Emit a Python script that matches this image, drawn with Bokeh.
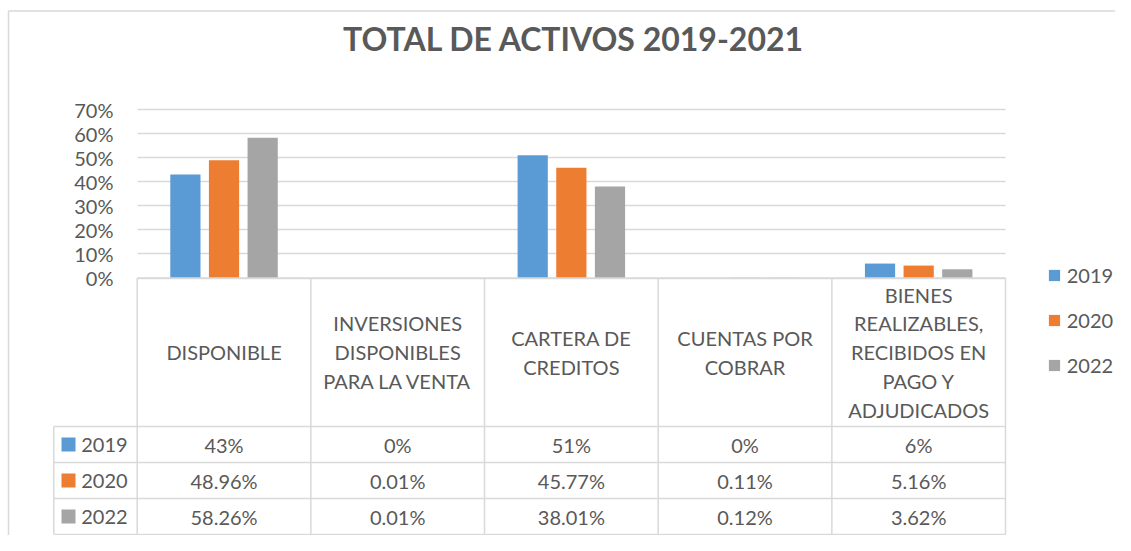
from bokeh.plotting import figure
from bokeh.models import Range1d, Grid, FixedTicker, Legend, LegendItem
from bokeh.core.properties import value
from bokeh.embed import file_html
from bokeh.resources import INLINE

# ---------------- data ----------------
title_text = "TOTAL DE ACTIVOS 2019-2021"
categories = [
    "DISPONIBLE",
    "INVERSIONES\nDISPONIBLES\nPARA LA VENTA",
    "CARTERA DE\nCREDITOS",
    "CUENTAS POR\nCOBRAR",
    "BIENES\nREALIZABLES,\nRECIBIDOS EN\nPAGO Y\nADJUDICADOS",
]
series_names = ["2019", "2020", "2022"]
values_2019 = [0.43, 0.0, 0.51, 0.0, 0.06]
values_2020 = [0.4896, 0.0001, 0.4577, 0.0011, 0.0516]
values_2022 = [0.5826, 0.0001, 0.3801, 0.0012, 0.0362]
series_decimals = [0, 2, 2]
y_ticks = [0.0, 0.1, 0.2, 0.3, 0.4, 0.5, 0.6, 0.7]
y_tick_labels = ["0%", "10%", "20%", "30%", "40%", "50%", "60%", "70%"]

series_values = [values_2019, values_2020, values_2022]
colors = ["#5B9BD5", "#ED7D31", "#A5A5A5"]

# ---------------- layout (pixels) ----------------
W, H = 1115, 535
X0 = 136.7      # left of plot area
CW = 173.66     # width of one category
Y0 = 277.5      # y pixel of 0%
UNIT = 240.7    # pixels per 100%
TEXT = "#595959"
LINE = "#d9d9d9"
FONT = value("Lato")
FS = "20px"


def dx(px):
    return (px - X0) / CW


def dy(py):
    return (Y0 - py) / UNIT


p = figure(width=W, height=H, output_backend="svg", toolbar_location=None,
           x_range=Range1d(dx(0), dx(W)), y_range=Range1d(dy(H), dy(0)),
           x_axis_location=None, y_axis_location=None,
           min_border=0, min_border_left=0, min_border_right=0,
           min_border_top=0, min_border_bottom=0)
p.outline_line_color = None
p.background_fill_color = "white"
p.border_fill_color = "white"
for g in list(p.center):
    g.visible = False

# chart border (top + left)
p.segment(x0=[dx(8), dx(8)], y0=[dy(10.5), dy(10.5)], x1=[dx(W), dx(8)],
          y1=[dy(10.5), dy(H)], line_color=LINE, line_width=1.5)

# gridlines
ncat = len(categories)
grid = Grid(dimension=1, ticker=FixedTicker(ticks=y_ticks), cross_bounds=(0, ncat),
            grid_line_color=LINE, grid_line_width=1.5)
p.center.append(grid)

# y tick labels
p.text(x=[dx(113)] * len(y_ticks), y=y_ticks, text=y_tick_labels,
       text_font=FONT, text_font_size=FS, text_color=TEXT,
       text_align="right", text_baseline="middle")

# bars
offsets = [-0.2225, 0.0, 0.2225]
bar_w = 0.174
renderers = []
for vals, off, col in zip(series_values, offsets, colors):
    xs = [i + 0.5 + off for i in range(ncat)]
    r = p.vbar(x=xs, top=vals, bottom=0, width=bar_w, fill_color=col, line_color=None)
    renderers.append(r)

# data table
HEAD_BOT = 426.0
ROW_H = 36.0
TABLE_L = 53.3
row_lines = [HEAD_BOT + k * ROW_H for k in range(len(series_names) + 1)]
x_right = float(ncat)
sx0, sy0, sx1, sy1 = [], [], [], []
sx0.append(0); sy0.append(0); sx1.append(x_right); sy1.append(0)
for ry in row_lines:
    sx0.append(dx(TABLE_L)); sy0.append(dy(ry)); sx1.append(x_right); sy1.append(dy(ry))
sx0.append(dx(TABLE_L)); sy0.append(dy(HEAD_BOT)); sx1.append(dx(TABLE_L)); sy1.append(dy(row_lines[-1]))
for k in range(ncat + 1):
    sx0.append(k); sy0.append(0); sx1.append(k); sy1.append(dy(row_lines[-1]))
p.segment(x0=sx0, y0=sy0, x1=sx1, y1=sy1, line_color=LINE, line_width=1.5)

# category labels
p.text(x=[i + 0.5 for i in range(ncat)], y=[dy((Y0 + HEAD_BOT) / 2)] * ncat, text=categories,
       text_font=FONT, text_font_size=FS, text_color=TEXT, text_align="center",
       text_baseline="middle", text_line_height=1.2)

# rows
for j, (name, vals, dec, col) in enumerate(zip(series_names, series_values, series_decimals, colors)):
    cy = dy(HEAD_BOT + (j + 0.5) * ROW_H)
    p.scatter(x=[dx(68)], y=[cy], marker="square", size=14, fill_color=col, line_color=None)
    p.text(x=[dx(80.7)], y=[cy], text=[name], text_font=FONT, text_font_size=FS,
           text_color=TEXT, text_align="left", text_baseline="middle")
    labels = [f"{v * 100:.{dec}f}%" for v in vals]
    p.text(x=[i + 0.5 for i in range(ncat)], y=[cy] * ncat, text=labels, text_font=FONT,
           text_font_size=FS, text_color=TEXT, text_align="center", text_baseline="middle")

# title
p.text(x=[dx(573.6)], y=[dy(37.7)], text=[title_text], text_font=FONT, text_font_style="bold",
       text_font_size="32px", text_color=TEXT, text_align="center", text_baseline="middle")

# legend
legend = Legend(items=[LegendItem(label=n, renderers=[r]) for n, r in zip(series_names, renderers)],
                location=(1046.7, H - 377), orientation="vertical",
                glyph_width=14, glyph_height=14, label_standoff=6, spacing=21,
                label_text_font="Lato", label_text_font_size=FS, label_text_color=TEXT,
                padding=0, margin=0, border_line_color=None, background_fill_alpha=0)
p.add_layout(legend)

open("out.html", "w").write(file_html(p, INLINE))
